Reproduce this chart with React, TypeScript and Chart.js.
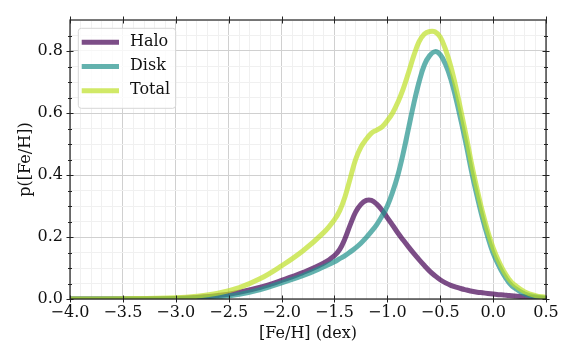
import React, { useEffect, useRef } from 'react';
import { Chart, registerables } from 'chart.js';

Chart.register(...registerables);

// [Fe/H] grid (dex)
const FEH = [
  -4.0, -3.5, -3.0, -2.8, -2.6, -2.4, -2.2, -2.0, -1.8, -1.6, -1.5, -1.45, -1.4, -1.35, -1.3, -1.25,
  -1.2, -1.15, -1.1, -1.05, -1.0, -0.95, -0.9, -0.85, -0.8, -0.75, -0.7, -0.65, -0.6, -0.55, -0.5,
  -0.45, -0.4, -0.35, -0.3, -0.25, -0.2, -0.15, -0.1, -0.05, 0.0, 0.05, 0.1, 0.15, 0.2, 0.3, 0.4, 0.5,
];

const HALO = [
  0.0, 0.0, 0.002, 0.005, 0.011, 0.022, 0.038, 0.06, 0.085, 0.116, 0.14, 0.16, 0.195, 0.24, 0.28, 0.305,
  0.318, 0.318, 0.306, 0.286, 0.262, 0.238, 0.213, 0.19, 0.168, 0.147, 0.127, 0.108, 0.09, 0.075, 0.062,
  0.052, 0.044, 0.038, 0.033, 0.029, 0.025, 0.022, 0.02, 0.018, 0.016, 0.014, 0.013, 0.011, 0.01, 0.007, 0.004, 0.002,
];

const DISK = [
  0.0, 0.0, 0.001, 0.003, 0.007, 0.015, 0.03, 0.052, 0.075, 0.104, 0.12, 0.13, 0.14, 0.152, 0.165, 0.18,
  0.198, 0.218, 0.24, 0.268, 0.3, 0.345, 0.4, 0.47, 0.55, 0.63, 0.7, 0.755, 0.785, 0.798, 0.788,
  0.757, 0.71, 0.645, 0.57, 0.49, 0.405, 0.33, 0.26, 0.2, 0.148, 0.11, 0.078, 0.053, 0.036, 0.016, 0.007, 0.003,
];

const TOTAL = [
  0.0, 0.001, 0.004, 0.009, 0.019, 0.037, 0.066, 0.107, 0.155, 0.215, 0.256, 0.285, 0.33, 0.39, 0.45, 0.49,
  0.515, 0.535, 0.545, 0.555, 0.575, 0.6, 0.635, 0.678, 0.73, 0.785, 0.83, 0.855, 0.863, 0.862, 0.845,
  0.805, 0.75, 0.68, 0.6, 0.518, 0.43, 0.352, 0.28, 0.218, 0.165, 0.124, 0.09, 0.064, 0.046, 0.023, 0.011, 0.005,
];

const SERIES_NAMES = ['Halo', 'Disk', 'Total'];
const SERIES_COLORS = ['rgba(68,1,84,0.7)', 'rgba(33,145,140,0.7)', 'rgba(189,223,38,0.7)'];

const X_TICKS = [-4.0, -3.5, -3.0, -2.5, -2.0, -1.5, -1.0, -0.5, 0.0, 0.5];
const Y_TICKS = [0.0, 0.2, 0.4, 0.6, 0.8];

const FONT_FAMILY = "'DejaVu Serif', serif";
const FONT_SIZE = 16;

const isIn = (v: number, arr: number[]) => arr.some((t) => Math.abs(t - v) < 1e-6);
const fmt = (v: number) => v.toFixed(1).replace('-', '\u2212');

const framePlugin = {
  id: 'frame',
  afterDatasetsDraw(chart: any) {
    const { ctx, chartArea } = chart;
    const { left, right, top, bottom } = chartArea;
    const xs = chart.scales.x;
    const ys = chart.scales.y;
    ctx.save();
    ctx.strokeStyle = '#222';
    ctx.lineWidth = 1.2;
    ctx.strokeRect(left, top, right - left, bottom - top);
    ctx.lineWidth = 1;
    const seg = (x1: number, y1: number, x2: number, y2: number) => {
      ctx.beginPath();
      ctx.moveTo(x1, y1);
      ctx.lineTo(x2, y2);
      ctx.stroke();
    };
    X_TICKS.forEach((v) => {
      const px = Math.round(xs.getPixelForValue(v)) + 0.5;
      seg(px, bottom - 3.5, px, bottom + 3.5);
      seg(px, top - 3.5, px, top + 3.5);
    });
    ys.ticks.forEach((t: any) => {
      if (t.value > ys.max - 1e-6) return;
      const py = Math.round(ys.getPixelForValue(t.value)) + 0.5;
      const major = isIn(t.value, Y_TICKS);
      const h = major ? 3.5 : 2;
      seg(left - h, py, left + h, py);
      seg(right - h, py, right + h, py);
    });
    ctx.restore();
  },
};

const legendPlugin = {
  id: 'boxLegend',
  afterDraw(chart: any) {
    const { ctx, chartArea } = chart;
    const bx = chartArea.left + 8.3;
    const by = chartArea.top + 8.3;
    const bw = 97.4;
    const bh = 80;
    const r = 3;
    ctx.save();
    ctx.beginPath();
    ctx.moveTo(bx + r, by);
    ctx.lineTo(bx + bw - r, by);
    ctx.arcTo(bx + bw, by, bx + bw, by + r, r);
    ctx.lineTo(bx + bw, by + bh - r);
    ctx.arcTo(bx + bw, by + bh, bx + bw - r, by + bh, r);
    ctx.lineTo(bx + r, by + bh);
    ctx.arcTo(bx, by + bh, bx, by + bh - r, r);
    ctx.lineTo(bx, by + r);
    ctx.arcTo(bx, by, bx + r, by, r);
    ctx.closePath();
    ctx.fillStyle = 'rgba(255,255,255,0.8)';
    ctx.fill();
    ctx.strokeStyle = '#d6d6d6';
    ctx.lineWidth = 1;
    ctx.stroke();
    chart.data.datasets.forEach((ds: any, i: number) => {
      const cy = by + 14 + i * 24.2;
      ctx.strokeStyle = ds.borderColor;
      ctx.lineWidth = 5;
      ctx.lineCap = 'butt';
      ctx.beginPath();
      ctx.moveTo(bx + 3.4, cy);
      ctx.lineTo(bx + 40.7, cy);
      ctx.stroke();
      ctx.fillStyle = '#111';
      ctx.font = `${FONT_SIZE}px ${FONT_FAMILY}`;
      ctx.textBaseline = 'middle';
      ctx.textAlign = 'left';
      ctx.fillText(ds.label, bx + 51.7, cy - 0.5);
    });
    ctx.restore();
  },
};

export default function App() {
  const canvasRef = useRef<HTMLCanvasElement | null>(null);

  useEffect(() => {
    if (!canvasRef.current) return;
    const seriesValues = [HALO, DISK, TOTAL];
    const chart = new Chart(canvasRef.current, {
      type: 'line',
      data: {
        datasets: seriesValues.map((vals, i) => ({
          label: SERIES_NAMES[i],
          data: FEH.map((x, j) => ({ x, y: vals[j] })),
          borderColor: SERIES_COLORS[i],
          backgroundColor: SERIES_COLORS[i],
          borderWidth: 5,
          pointRadius: 0,
          fill: false,
          tension: 0.4,
          clip: 0,
          order: 2 - i,
        })),
      },
      options: {
        animation: false,
        responsive: false,
        devicePixelRatio: 1,
        events: [],
        layout: { padding: { left: 0, right: 30, top: 20, bottom: 0 } },
        plugins: {
          legend: { display: false },
          tooltip: { enabled: false },
        },
        scales: {
          x: {
            type: 'linear',
            min: -4,
            max: 0.5,
            afterFit: (scale: any) => {
              scale.height = 61;
            },
            border: { display: false },
            grid: {
              drawTicks: false,
              color: (c: any) => (isIn(c.tick.value, X_TICKS) ? '#d0d0d0' : '#f0f0f0'),
              lineWidth: 1,
            },
            ticks: {
              stepSize: 0.1,
              autoSkip: false,
              maxRotation: 0,
              padding: 4,
              color: '#111',
              font: { family: FONT_FAMILY, size: FONT_SIZE },
              callback: (v: any) => (isIn(Number(v), X_TICKS) ? fmt(Number(v)) : ''),
            },
            title: {
              display: true,
              text: '[Fe/H] (dex)',
              color: '#111',
              font: { family: FONT_FAMILY, size: FONT_SIZE },
              padding: { top: 0, bottom: 17 },
            },
          },
          y: {
            type: 'linear',
            min: 0,
            max: 0.9,
            afterFit: (scale: any) => {
              scale.width = 70;
            },
            border: { display: false },
            grid: {
              drawTicks: false,
              color: (c: any) => (isIn(c.tick.value, Y_TICKS) ? '#d0d0d0' : '#f0f0f0'),
              lineWidth: 1,
            },
            ticks: {
              stepSize: 0.05,
              autoSkip: false,
              padding: 7,
              color: '#111',
              font: { family: FONT_FAMILY, size: FONT_SIZE },
              callback: (v: any) => (isIn(Number(v), Y_TICKS) ? Number(v).toFixed(1) : ''),
            },
            title: {
              display: true,
              text: 'p([Fe/H])',
              color: '#111',
              font: { family: FONT_FAMILY, size: FONT_SIZE },
              padding: { top: 16, bottom: 0 },
            },
          },
        },
      },
      plugins: [framePlugin, legendPlugin],
    });
    return () => chart.destroy();
  }, []);

  return (
    <div style={{ position: 'fixed', left: 0, top: 0, width: 576, height: 360, background: '#fff' }}>
      <canvas ref={canvasRef} width={576} height={360} style={{ display: 'block' }} />
    </div>
  );
}
